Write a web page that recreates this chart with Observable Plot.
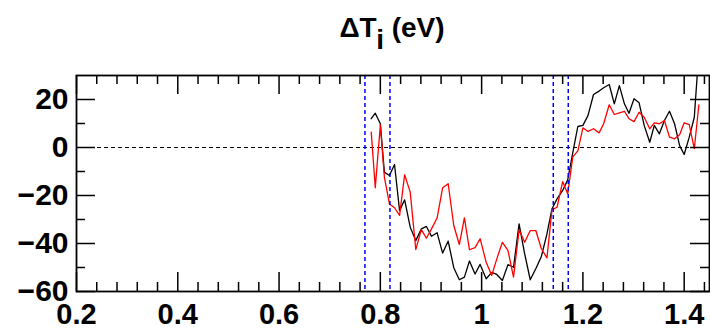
<!DOCTYPE html>
<html>
<head>
<meta charset="utf-8">
<script src="https://cdn.jsdelivr.net/npm/d3@7"></script>
<script src="https://cdn.jsdelivr.net/npm/@observablehq/plot@0.6"></script>
<style>
  html, body { margin: 0; padding: 0; background: #fff; overflow: hidden; }
  #wrap { width: 710px; height: 331px; }
  #title { position: relative; height: 60px; width: 710px; }
  #title div { position: absolute; left: 74px; width: 636px; top: 14px; text-align: center;
    font: bold 28px/28px "Liberation Sans", Arial, Helvetica, sans-serif; color: #000; }
  #title span.sub { position: relative; top: 12px; }
</style>
</head>
<body>
<div id="wrap">
  <div id="title"><div>ΔT<span class="sub">i</span> (eV)</div></div>
  <div id="chart"></div>
</div>
<script>
// ---- data ----
const xs = [0.782, 0.790, 0.800, 0.808, 0.818, 0.828, 0.838, 0.848, 0.859, 0.870,
            0.881, 0.891, 0.901, 0.912, 0.923, 0.934, 0.945, 0.956, 0.966, 0.976,
            0.987, 0.997, 1.009, 1.020, 1.030, 1.041, 1.052, 1.063, 1.074, 1.085,
            1.096, 1.107, 1.118, 1.129, 1.139, 1.149, 1.160, 1.170, 1.180, 1.190,
            1.200, 1.210, 1.221, 1.232, 1.241, 1.252, 1.262, 1.272, 1.282, 1.291,
            1.301, 1.311, 1.321, 1.332, 1.341, 1.351, 1.361, 1.371, 1.381, 1.391,
            1.400, 1.410, 1.420, 1.429];
const blackSeries = [12, 14.3, 9.9, -10.3, -11.7, -7.1, -26.3, -21.8, -33.2, -38.8,
            -33.9, -32.9, -37, -35.5, -44, -39, -50.1, -55.1, -54, -47.3,
            -52.7, -48.7, -54.7, -52, -52.9, -55.4, -48.8, -49.9, -31.8, -44.3,
            -55.1, -50.5, -45.4, -36, -25.5, -21.4, -17.9, -13.5, -2.1, 8.75,
            9.2, 13.3, 22.1, 23.5, 24.9, 26.25, 18.2, 25.8, 18.2, 14.3,
            20.3, 18.6, 9.2, 2.2, 9.2, 5.7, 11.25, 15.1, 9.9, 0.8,
            -2.9, 4.3, 12.6, 40];
const redSeries = [6.4, -16.8, 9.4, -12.4, -23.5, -25.1, -28.3, -11.4, -18.6, -42.5,
            -34.2, -37.8, -33.9, -29.4, -16.8, -15.1, -32.5, -40.4, -29.3, -42.6,
            -41.7, -38, -47.8, -53.3, -46.4, -39.5, -42.9, -54, -34.3, -39.5,
            -34.6, -34.6, -42.2, -46, -25.9, -24.9, -14.2, -19.3, -3.9, -1.4,
            8.2, 6.7, 7.8, 6.1, 9.9, 17.8, 13.75, 14.4, 15.1, 12,
            10.8, 14.7, 12.6, 7.8, 10.3, 9.9, 11.25, 4.3, 3.6, 5.3,
            10.3, 9.5, -0.5, 17.8];
const blueLines = [0.7696, 0.819, 1.1415, 1.1711];
const zeroLine = [0];

// ---- axes ----
const xDomain = [0.2, 1.45];
const yDomain = [-60, 30];
const xMajor = [0.2, 0.4, 0.6, 0.8, 1.0, 1.2, 1.4];
const xTickLabels = ["0.2", "0.4", "0.6", "0.8", "1", "1.2", "1.4"];
const xMinor = [0.24, 0.28, 0.32, 0.36, 0.44, 0.48, 0.52, 0.56, 0.64, 0.68, 0.72, 0.76,
                0.84, 0.88, 0.92, 0.96, 1.04, 1.08, 1.12, 1.16, 1.24, 1.28, 1.32, 1.36, 1.44];
const yMajor = [-60, -40, -20, 0, 20];
const yTickLabels = ["\u221260", "\u221240", "\u221220", "0", "20"];
const yMinor = [-50, -30, -10, 10];

const rows = xs.map((x, i) => ({x, black: blackSeries[i], red: redSeries[i]}));
const xLab = new Map(xMajor.map((v, i) => [v, xTickLabels[i]]));
const yLab = new Map(yMajor.map((v, i) => [v, yTickLabels[i]]));

const W = 710, H = 271, mT = 15, mB = 40, mL = 76, mR = 1;
const fw = W - mL - mR, fh = H - mT - mB;
const majorLen = 19, minorLen = 9;
const font = '"Liberation Sans", Arial, Helvetica, sans-serif';

const chart = Plot.plot({
  width: W, height: H,
  marginTop: mT, marginBottom: mB, marginLeft: mL, marginRight: mR,
  style: {fontFamily: font, fontWeight: "bold", background: "#fff", color: "#000"},
  x: {domain: xDomain, label: null},
  y: {domain: yDomain, label: null},
  marks: [
    Plot.ruleY(zeroLine, {stroke: "#000", strokeWidth: 1, strokeDasharray: "4,3"}),
    Plot.line(rows, {x: "x", y: "black", stroke: "#000", strokeWidth: 1.3, clip: true}),
    Plot.line(rows, {x: "x", y: "red", stroke: "#ff0000", strokeWidth: 1.3, clip: true}),
    Plot.ruleX(blueLines, {stroke: "#0000ff", strokeWidth: 1.5, strokeDasharray: "4,3"}),
    // inward ticks on all four sides
    Plot.ruleX(xMajor, {insetTop: fh - majorLen, stroke: "#000", strokeWidth: 1.5}),
    Plot.ruleX(xMinor, {insetTop: fh - minorLen, stroke: "#000", strokeWidth: 1.5}),
    Plot.ruleX(xMajor, {insetBottom: fh - majorLen, stroke: "#000", strokeWidth: 1.5}),
    Plot.ruleX(xMinor, {insetBottom: fh - minorLen, stroke: "#000", strokeWidth: 1.5}),
    Plot.ruleY(yMajor, {insetRight: fw - majorLen, stroke: "#000", strokeWidth: 1.5}),
    Plot.ruleY(yMinor, {insetRight: fw - minorLen, stroke: "#000", strokeWidth: 1.5}),
    Plot.ruleY(yMajor, {insetLeft: fw - majorLen, stroke: "#000", strokeWidth: 1.5}),
    Plot.ruleY(yMinor, {insetLeft: fw - minorLen, stroke: "#000", strokeWidth: 1.5}),
    Plot.frame({stroke: "#000", strokeWidth: 1.8}),
    Plot.axisX({ticks: xMajor, anchor: "bottom", tickSize: 0, tickPadding: 12,
      tickFormat: d => xLab.get(d), fontSize: 29, fontWeight: "bold", label: null}),
    Plot.axisY({ticks: yMajor, anchor: "left", tickSize: 0, tickPadding: 8,
      tickFormat: d => yLab.get(d), fontSize: 30, fontWeight: "bold", label: null})
  ]
});
document.getElementById("chart").appendChild(chart);
</script>
</body>
</html>
